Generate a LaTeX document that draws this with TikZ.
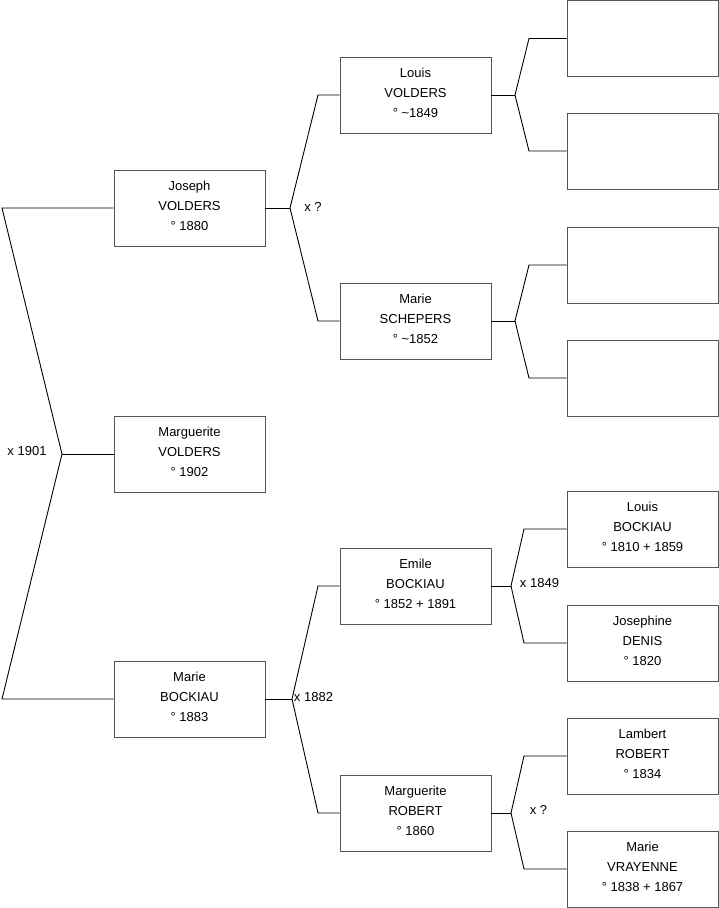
\documentclass[tikz,border=0pt]{standalone}
\usepackage{fontspec}
\setmainfont{Liberation Sans}
\definecolor{BoxLine}{HTML}{555555}

\begin{document}
\begin{tikzpicture}[x=1pt,y=-1pt,line width=0.9pt]
  \tikzset{personbox/.style={draw=BoxLine, fill=white, minimum width=151pt, minimum height=76pt, inner sep=0pt, text depth=5pt, align=center, font=\fontsize{13}{20}\selectfont},
           marriage/.style={inner sep=0pt, font=\fontsize{13}{15}\selectfont}}
  \useasboundingbox (0,0) rectangle (719,908);
  % generation 1 and 2
  \node[personbox] (joseph) at (189.5,208) {Joseph\\VOLDERS\\° 1880};
  \node[personbox] (marguerite) at (189.5,454) {Marguerite\\VOLDERS\\° 1902};
  \node[personbox] (marieB) at (189.5,699) {Marie\\BOCKIAU\\° 1883};
  % generation 3
  \node[personbox] (louisV) at (415.5,95) {Louis\\VOLDERS\\° \textasciitilde1849};
  \node[personbox] (marieS) at (415.5,321) {Marie\\SCHEPERS\\° \textasciitilde1852};
  \node[personbox] (emile) at (415.5,586) {Emile\\BOCKIAU\\° 1852 + 1891};
  \node[personbox] (margR) at (415.5,813) {Marguerite\\ROBERT\\° 1860};
  % generation 4
  \node[personbox] (u1) at (642.5,38.5) {};
  \node[personbox] (u2) at (642.5,151) {};
  \node[personbox] (u3) at (642.5,265) {};
  \node[personbox] (u4) at (642.5,378) {};
  \node[personbox] (louisB) at (642.5,529) {Louis\\BOCKIAU\\° 1810 + 1859};
  \node[personbox] (josephine) at (642.5,643) {Josephine\\DENIS\\° 1820};
  \node[personbox] (lambert) at (642.5,756) {Lambert\\ROBERT\\° 1834};
  \node[personbox] (marieV) at (642.5,869) {Marie\\VRAYENNE\\° 1838 + 1867};
  % root fork
  \coordinate (rootA) at (2,208);
  \coordinate (rootB) at (2,699);
  \coordinate (rootF) at (62,454);
  \draw (joseph.west) -- (rootA) -- (rootF) -- (rootB) -- (marieB.west);
  \draw (rootF) -- (marguerite.west);
  % parent forks
  \foreach \p/\a/\b/\xf/\xb in {joseph/louisV/marieS/290/318, marieB/emile/margR/292/318, louisV/u1/u2/515/529, marieS/u3/u4/515/529, emile/louisB/josephine/511/524, margR/lambert/marieV/511/524}{
    \draw (\p.east) -- (\xf,0 |- \p);
    \draw (\a.west) -- (\xb,0 |- \a) -- (\xf,0 |- \p) -- (\xb,0 |- \b) -- (\b.west);
  }
  % marriages
  \node[marriage] (wed1) at (27,451) {x 1901};
  \node[marriage] (wed2) at (313,207) {x ?};
  \node[marriage] (wed3) at (313.5,697) {x 1882};
  \node[marriage] (wed4) at (539.5,583) {x 1849};
  \node[marriage] (wed5) at (538.5,810) {x ?};
\end{tikzpicture}
\end{document}
